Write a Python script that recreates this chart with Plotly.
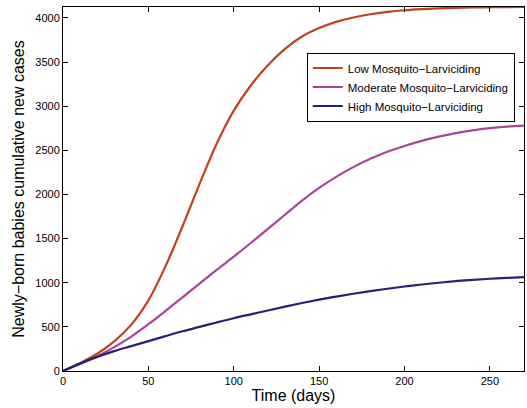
import plotly.graph_objects as go

time_days = [0, 10, 20, 30, 40, 50, 60, 70, 80, 90, 100, 110, 120, 130, 140,
             150, 160, 170, 180, 190, 200, 210, 220, 230, 240, 250, 260, 270]

low_larviciding = [0, 90, 195, 335, 525, 800, 1185, 1640, 2120, 2575, 2950, 3235,
                   3465, 3650, 3790, 3885, 3955, 4005, 4042, 4068, 4087, 4100,
                   4109, 4115, 4119, 4121, 4123, 4124]

moderate_larviciding = [0, 80, 165, 270, 390, 530, 680, 835, 990, 1145, 1295, 1450,
                        1610, 1770, 1930, 2075, 2200, 2310, 2405, 2485, 2550, 2607,
                        2655, 2695, 2727, 2751, 2768, 2780]

high_larviciding = [0, 85, 160, 225, 282, 338, 395, 450, 500, 550, 598, 642,
                    686, 729, 770, 808, 843, 875, 905, 932, 957, 980,
                    1000, 1018, 1033, 1045, 1055, 1063]

series_names = ["Low Mosquito\u2212Larviciding",
                "Moderate Mosquito\u2212Larviciding",
                "High Mosquito\u2212Larviciding"]
series_colors = ["#c0401f", "#a8459a", "#25207a"]
series_values = [low_larviciding, moderate_larviciding, high_larviciding]

x_ticks = [0, 50, 100, 150, 200, 250]
y_ticks = [0, 500, 1000, 1500, 2000, 2500, 3000, 3500, 4000]

FONT = "Liberation Sans, Arial, Helvetica, sans-serif"

fig = go.Figure()
for name, color, vals in zip(series_names, series_colors, series_values):
    fig.add_trace(go.Scatter(
        x=time_days, y=vals, mode="lines", name=name,
        line=dict(color=color, width=2.2, shape="spline", smoothing=1.0),
    ))

axis_common = dict(
    showline=True, linecolor="black", linewidth=1, mirror="ticks",
    ticks="inside", ticklen=5, tickcolor="black", tickwidth=1,
    showgrid=False, zeroline=False,
    tickfont=dict(family=FONT, size=11, color="black"),
)

fig.update_layout(
    width=527, height=408,
    margin=dict(l=63, r=3, t=7, b=37),
    paper_bgcolor="white", plot_bgcolor="white",
    font=dict(family=FONT, color="black"),
    showlegend=True,
    legend=dict(
        x=0.98, y=0.875, xanchor="right", yanchor="top",
        bgcolor="white", bordercolor="black", borderwidth=1,
        font=dict(family=FONT, size=11.5, color="black"),
        tracegroupgap=0, itemwidth=30,
    ),
    xaxis=dict(
        range=[0, 270], tickvals=x_ticks, ticktext=[str(v) for v in x_ticks],
        title=dict(text="Time (days)", font=dict(family=FONT, size=16), standoff=2),
        **axis_common,
    ),
    yaxis=dict(
        range=[0, 4124], tickvals=y_ticks, ticktext=[str(v) for v in y_ticks],
        title=dict(text="Newly\u2212born babies cumulative new cases",
                   font=dict(family=FONT, size=16), standoff=6),
        **axis_common,
    ),
)

fig.write_html("out.html", config={"displayModeBar": False},
               post_script="document.body.style.margin='0';")
